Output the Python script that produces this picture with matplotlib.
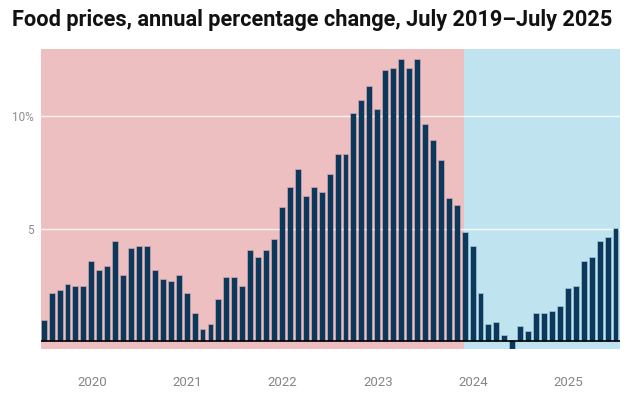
import matplotlib.pyplot as plt
import numpy as np
import pandas as pd

plt.rcParams['font.family'] = ['Roboto', 'DejaVu Sans']

# Monthly food price inflation, July 2019 - July 2025 (%)
months = pd.date_range('2019-07-01', '2025-07-01', freq='MS')
food_inflation = [
    0.9, 2.1, 2.2, 2.5, 2.4, 2.4,                     # Jul-Dec 2019
    3.5, 3.1, 3.3, 4.4, 2.9, 4.1, 4.2, 4.2, 3.1, 2.7, 2.6, 2.9,   # 2020
    2.1, 1.2, 0.5, 0.7, 1.8, 2.8, 2.8, 2.4, 4.0, 3.7, 4.0, 4.5,   # 2021
    5.9, 6.8, 7.6, 6.4, 6.8, 6.6, 7.4, 8.3, 8.3, 10.1, 10.7, 11.3,  # 2022
    10.3, 12.0, 12.1, 12.5, 12.1, 12.5, 9.6, 8.9, 8.0, 6.3, 6.0, 4.8,  # 2023
    4.2, 2.1, 0.7, 0.8, 0.2, -0.35, 0.6, 0.4, 1.2, 1.2, 1.3, 1.5,  # 2024
    2.3, 2.4, 3.5, 3.7, 4.4, 4.6, 5.0,                # Jan-Jul 2025
]
year_ticks = [2020, 2021, 2022, 2023, 2024, 2025]
period_split = '2023-12-01'   # shading changes here

bar_color = '#0b385b'
red_bg = '#eebfc0'
blue_bg = '#bfe4ef'

x = np.arange(len(months))
split = months.get_loc(pd.Timestamp(period_split)) - 0.15

fig = plt.figure(figsize=(6.3, 3.99), dpi=100)
ax = fig.add_axes([41 / 630, 1 - 348.7 / 399, 579 / 630, 299.7 / 399])

xmin, xmax = -0.4, len(months) - 0.5
ax.axvspan(xmin, split, color=red_bg, lw=0, zorder=0)
ax.axvspan(split, xmax, color=blue_bg, lw=0, zorder=0)

for g in [5, 10]:
    ax.axhline(g, color='white', lw=1, alpha=0.8, zorder=1)

ax.bar(x, food_inflation, width=0.62, color=bar_color,
       edgecolor=(0.05, 0.23, 0.37, 0.35), linewidth=1.1, zorder=2)
ax.axhline(0, color='black', lw=1.2, zorder=3)

ax.set_xlim(xmin, xmax)
ax.set_ylim(-0.35, 13)

ax.set_yticks([5, 10])
ax.set_yticklabels(['5', '10%'])
jan_idx = [months.get_loc(pd.Timestamp(f'{y}-01-01')) for y in year_ticks]
ax.set_xticks(jan_idx)
ax.set_xticklabels([str(y) for y in year_ticks])

ax.tick_params(axis='y', length=0, pad=5, labelsize=8.5, labelcolor='#8c8c8c')
ax.tick_params(axis='x', length=0, pad=20, labelsize=9.5, labelcolor='#858585')
for s in ax.spines.values():
    s.set_visible(False)

fig.text(12 / 630, 1 - 26 / 399,
         'Food prices, annual percentage change, July 2019\u2013July 2025',
         fontsize=15.7, fontweight='bold', color='#111111',
         ha='left', va='baseline')

fig.savefig('out.png', dpi=100)
